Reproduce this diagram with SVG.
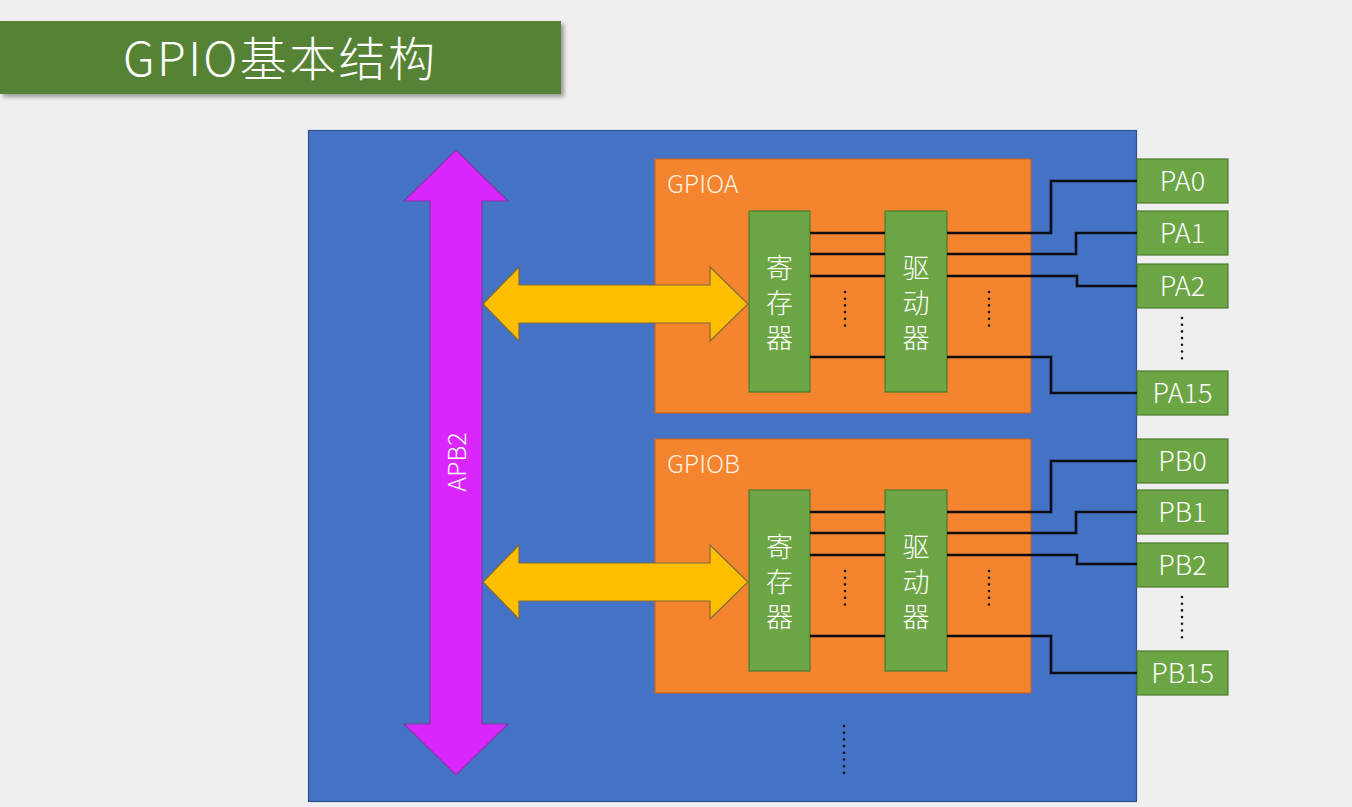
<svg xmlns="http://www.w3.org/2000/svg" width="1352" height="807" viewBox="0 0 1352 807">
<defs>
<filter id="sh" x="-5%" y="-20%" width="115%" height="150%">
<feDropShadow dx="3" dy="3" stdDeviation="2" flood-color="#000" flood-opacity="0.35"/>
</filter>
</defs>
<style>
.t{font-family:"Noto Sans CJK SC","Liberation Sans",sans-serif;fill:#ffffff;font-weight:300}
.gb{fill:#6ca544;stroke:#4e7c30;stroke-width:1.2}
.org{fill:#f5842f;stroke:#c0652a;stroke-width:1.2}
.yel{fill:#ffbf00;stroke:#7f6a3a;stroke-width:1.2}
.wire{fill:none;stroke:#0d0d14;stroke-width:2.6}
.dots{fill:none;stroke:#141414;stroke-width:2.6;stroke-linecap:round;stroke-dasharray:0 6.7}
.pin{font-size:27px;text-anchor:middle}
.blk{font-size:27px;writing-mode:vertical-rl;letter-spacing:8px}
.lbl{font-size:25px;fill:#fdf1e4}
</style>
<rect width="1352" height="807" fill="#efefef"/>

<g id="title">
<rect x="0" y="21" width="561" height="73" fill="#548235" filter="url(#sh)"/>
<text class="t" x="279" y="76" font-size="47" text-anchor="middle" textLength="312" lengthAdjust="spacing">GPIO基本结构</text>
</g>

<g id="chip">
<rect x="308.5" y="130.5" width="828" height="671" fill="#4472c4" stroke="#2f528f" stroke-width="1.2"/>
</g>

<g id="apb2">
<polygon points="456,150 508,201 482,201 482,724 508,724 456,775 404,724 430,724 430,201 404,201" fill="#d926fd" stroke="#7d3aa8" stroke-width="1.2"/>
<text class="t" font-size="25" text-anchor="middle" fill="#f8e8ff" transform="translate(466,462) rotate(-90)">APB2</text>
</g>

<g id="gpioa">
<rect class="org" x="655" y="159" width="376" height="254"/>
<text class="t lbl" x="667" y="193">GPIOA</text>
</g>
<g id="gpiob">
<rect class="org" x="655" y="439" width="376" height="254"/>
<text class="t lbl" x="667" y="473">GPIOB</text>
</g>

<g id="busA">
<polygon class="yel" points="483,304 519,267 519,285 710,285 710,267 748,304 710,341 710,323 519,323 519,341"/>
</g>
<g id="busB">
<polygon class="yel" points="483,582 519,545 519,563 710,563 710,545 748,582 710,619 710,601 519,601 519,619"/>
</g>

<g id="regA">
<rect class="gb" x="749" y="211" width="61" height="181"/>
<text class="t blk" x="779.5" y="254.5">寄存器</text>
</g>
<g id="drvA">
<rect class="gb" x="885" y="211" width="62" height="181"/>
<text class="t blk" x="916" y="254.5">驱动器</text>
</g>
<g id="regB">
<rect class="gb" x="749" y="490" width="61" height="181"/>
<text class="t blk" x="779.5" y="533.5">寄存器</text>
</g>
<g id="drvB">
<rect class="gb" x="885" y="490" width="62" height="181"/>
<text class="t blk" x="916" y="533.5">驱动器</text>
</g>

<g id="PA0"><rect class="gb" x="1137" y="159" width="91" height="44"/><text class="t pin" x="1182.5" y="191">PA0</text></g>
<g id="PA1"><rect class="gb" x="1137" y="211" width="91" height="44"/><text class="t pin" x="1182.5" y="243">PA1</text></g>
<g id="PA2"><rect class="gb" x="1137" y="264" width="91" height="44"/><text class="t pin" x="1182.5" y="296">PA2</text></g>
<g id="PA15"><rect class="gb" x="1137" y="371" width="91" height="44"/><text class="t pin" x="1182.5" y="403">PA15</text></g>
<g id="PB0"><rect class="gb" x="1137" y="439" width="91" height="44"/><text class="t pin" x="1182.5" y="471">PB0</text></g>
<g id="PB1"><rect class="gb" x="1137" y="490" width="91" height="44"/><text class="t pin" x="1182.5" y="522">PB1</text></g>
<g id="PB2"><rect class="gb" x="1137" y="543" width="91" height="44"/><text class="t pin" x="1182.5" y="575">PB2</text></g>
<g id="PB15"><rect class="gb" x="1137" y="651" width="91" height="44"/><text class="t pin" x="1182.5" y="683">PB15</text></g>

<g id="connectors">
<path class="wire" d="M810,233 H885 M810,254 H885 M810,276 H885 M810,357 H885"/>
<path class="wire" d="M947,233 H1051 V181 H1137"/>
<path class="wire" d="M947,254 H1076 V233 H1137"/>
<path class="wire" d="M947,276 H1077 V286 H1137"/>
<path class="wire" d="M947,357 H1051 V393 H1137"/>
<path class="wire" d="M810,512 H885 M810,533 H885 M810,555 H885 M810,636 H885"/>
<path class="wire" d="M947,512 H1051 V461 H1137"/>
<path class="wire" d="M947,533 H1076 V512 H1137"/>
<path class="wire" d="M947,555 H1077 V564 H1137"/>
<path class="wire" d="M947,636 H1051 V673 H1137"/>
</g>

<g id="ellipses">
<path class="dots" d="M845,292 V332 M989,292 V332 M1182,318 V359"/>
<path class="dots" d="M845,571 V611 M989,571 V611 M1182,597 V638"/>
<path class="dots" d="M844,726 V773"/>
</g>
</svg>
